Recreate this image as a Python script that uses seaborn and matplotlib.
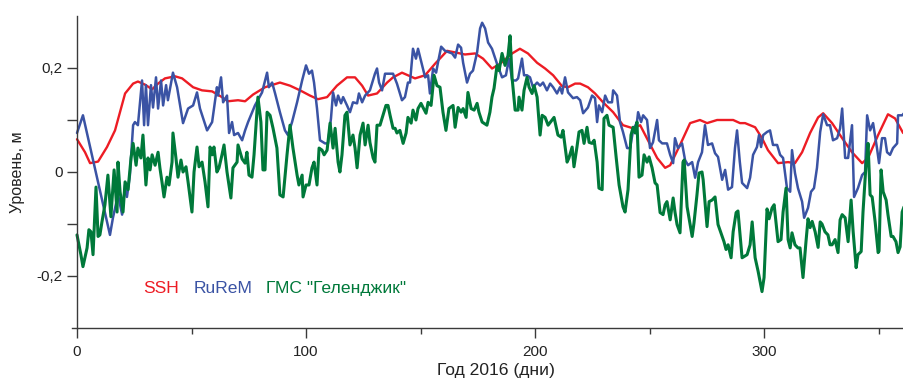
import seaborn as sns
import matplotlib
matplotlib.use("Agg")
import matplotlib.pyplot as plt

# values (day of 2016, level in m)
ssh_day = [0.0, 3.5, 5.7, 9.2, 13.1, 16.6, 21.0, 24.5, 26.6, 29.7, 32.8, 35.4, 38.4, 42.8, 45.9,
           50.7, 54.6, 59.0, 63.3, 65.9, 70.3, 73.4, 76.9, 82.1, 88.6, 93.0, 97.4, 101.7, 105.2,
           109.2, 113.5, 117.9, 121.4, 124.5, 127.1, 131.0, 135.4, 138.0, 141.9, 144.5, 147.6,
           152.0, 156.3, 161.6, 165.1, 169.4, 173.8, 177.3, 181.2, 184.7, 190.0, 193.4, 196.9,
           200.9, 204.4, 207.9, 211.8, 214.4, 217.5, 219.7, 223.1, 226.2, 229.7, 234.1, 238.4,
           242.8, 245.9, 249.3, 253.3, 256.8, 259.0, 263.3, 267.7, 272.0, 275.1, 279.5, 283.8,
           286.5, 289.5, 291.7, 296.1, 299.1, 301.7, 306.1, 310.5, 313.5, 316.6, 320.1, 323.6,
           325.8, 329.7, 334.1, 338.4, 342.8, 345.4, 349.8, 354.1, 357.2, 360.7]
ssh_val = [0.063, 0.038, 0.017, 0.020, 0.048, 0.080, 0.151, 0.170, 0.174, 0.168, 0.159, 0.170,
           0.180, 0.184, 0.180, 0.163, 0.157, 0.155, 0.144, 0.136, 0.138, 0.136, 0.149, 0.163,
           0.172, 0.166, 0.157, 0.147, 0.140, 0.144, 0.166, 0.182, 0.182, 0.166, 0.147, 0.151,
           0.172, 0.182, 0.191, 0.186, 0.180, 0.186, 0.208, 0.233, 0.230, 0.226, 0.228, 0.218,
           0.199, 0.208, 0.228, 0.237, 0.228, 0.210, 0.199, 0.186, 0.165, 0.163, 0.170, 0.170,
           0.163, 0.151, 0.134, 0.115, 0.090, 0.084, 0.090, 0.061, 0.027, 0.008, 0.013, 0.052,
           0.094, 0.100, 0.094, 0.100, 0.100, 0.100, 0.094, 0.094, 0.086, 0.065, 0.042, 0.017,
           0.019, 0.017, 0.038, 0.075, 0.105, 0.113, 0.094, 0.065, 0.038, 0.017, 0.027, 0.071,
           0.111, 0.103, 0.075]

rurem_day = [0.0, 2.6, 14.4, 15.7, 17.9, 19.7, 21.0, 21.8, 23.1, 24.5, 25.3, 26.6, 28.4, 29.3,
             30.1, 31.0, 32.3, 33.2, 34.5, 35.4, 36.7, 37.6, 38.9, 39.7, 41.9, 43.7, 46.3, 48.5,
             50.7, 52.4, 53.7, 56.8, 59.0, 61.1, 61.6, 62.9, 63.8, 65.5, 66.4, 67.7, 68.6, 70.3,
             72.1, 73.4, 74.7, 77.7, 80.8, 83.0, 83.8, 85.2, 86.5, 88.6, 90.8, 92.1, 93.9, 96.1,
             98.3, 100.0, 101.3, 102.6, 103.5, 104.8, 106.1, 108.3, 109.6, 110.9, 111.8, 113.1,
             114.0, 115.3, 116.2, 117.9, 119.2, 120.5, 122.3, 123.1, 124.5, 125.8, 127.9, 130.1,
             131.0, 131.9, 133.2, 134.5, 136.7, 138.0, 139.7, 141.9, 143.2, 144.5, 145.4, 146.7,
             148.0, 148.9, 150.7, 152.0, 153.3, 154.1, 155.5, 156.8, 157.6, 159.0, 160.7, 163.8,
             165.1, 166.4, 167.7, 168.6, 170.3, 171.6, 172.9, 174.7, 176.0, 176.9, 178.2, 179.5,
             181.2, 183.4, 185.6, 187.3, 188.6, 190.0, 191.7, 192.6, 194.3, 195.2, 196.5, 197.8,
             199.1, 200.9, 202.2, 203.5, 205.2, 206.6, 207.9, 209.6, 210.9, 211.8, 213.1, 214.4,
             216.6, 218.3, 219.7, 221.0, 223.1, 224.9, 226.2, 227.1, 227.9, 229.3, 230.6, 231.9,
             233.6, 234.1, 235.8, 237.1, 238.4, 240.2, 241.5, 242.8, 244.5, 245.0, 246.3, 247.2,
             248.9, 250.2, 251.5, 253.3, 254.1, 255.5, 257.6, 259.0, 260.3, 261.1, 262.4, 264.2,
             265.5, 266.8, 268.6, 269.9, 271.2, 272.9, 274.2, 275.5, 277.3, 278.6, 279.9, 281.7,
             283.0, 284.3, 286.0, 287.3, 288.2, 289.4, 290.4, 292.6, 293.9, 295.2, 296.9, 297.8,
             298.7, 299.6, 301.3, 302.6, 303.9, 305.7, 307.0, 308.3, 310.0, 311.4, 312.2, 313.5,
             314.8, 316.6, 317.5, 319.2, 320.5, 321.8, 323.1, 324.5, 325.8, 327.5, 328.8, 330.1,
             331.9, 333.2, 334.1, 335.4, 336.7, 338.4, 339.3, 341.0, 342.8, 344.1, 345.0, 346.3,
             347.6, 349.3, 350.2, 351.5, 352.8, 353.7, 355.0, 356.3, 358.1, 358.5, 360.3, 361.1]
rurem_val = [0.075, 0.109, -0.121, -0.088, -0.044, -0.082, -0.025, -0.048, -0.006, 0.090, 0.096,
             0.090, 0.176, 0.090, 0.167, 0.090, 0.167, 0.124, 0.182, 0.122, 0.176, 0.128, 0.167,
             0.138, 0.191, 0.163, 0.094, 0.122, 0.128, 0.153, 0.122, 0.080, 0.096, 0.163, 0.147,
             0.182, 0.134, 0.147, 0.075, 0.096, 0.071, 0.075, 0.061, 0.080, 0.096, 0.128, 0.153,
             0.191, 0.163, 0.172, 0.151, 0.115, 0.080, 0.071, 0.096, 0.134, 0.176, 0.205, 0.189,
             0.195, 0.172, 0.122, 0.061, 0.055, 0.055, 0.103, 0.153, 0.128, 0.147, 0.132, 0.144,
             0.128, 0.115, 0.134, 0.132, 0.151, 0.134, 0.147, 0.157, 0.189, 0.199, 0.172, 0.157,
             0.189, 0.189, 0.189, 0.170, 0.138, 0.144, 0.172, 0.172, 0.237, 0.218, 0.237, 0.205,
             0.182, 0.186, 0.151, 0.199, 0.191, 0.210, 0.241, 0.233, 0.228, 0.220, 0.245, 0.239,
             0.210, 0.172, 0.189, 0.195, 0.230, 0.276, 0.287, 0.276, 0.249, 0.237, 0.208, 0.182,
             0.186, 0.218, 0.176, 0.176, 0.180, 0.218, 0.186, 0.186, 0.182, 0.163, 0.172, 0.166,
             0.172, 0.157, 0.170, 0.163, 0.151, 0.163, 0.151, 0.182, 0.153, 0.142, 0.144, 0.138,
             0.113, 0.124, 0.147, 0.142, 0.096, 0.128, 0.115, 0.147, 0.134, 0.134, 0.157, 0.147,
             0.096, 0.077, 0.046, 0.046, 0.080, 0.096, 0.115, 0.096, 0.109, 0.100, 0.046, 0.057,
             0.100, 0.061, 0.055, 0.055, 0.033, 0.017, 0.065, 0.046, 0.055, 0.023, 0.013, 0.019,
             -0.011, 0.019, 0.038, 0.090, 0.052, 0.055, 0.036, 0.029, -0.015, 0.004, -0.034,
             -0.029, 0.046, 0.080, 0.020, -0.021, -0.031, -0.011, 0.033, 0.048, 0.071, 0.048,
             0.071, 0.077, 0.080, 0.052, 0.052, 0.033, 0.027, -0.031, -0.038, 0.042, -0.002,
             -0.031, -0.057, -0.088, -0.069, -0.038, -0.031, 0.008, 0.077, 0.111, 0.090, 0.090,
             0.061, 0.065, 0.084, 0.122, 0.027, 0.027, 0.090, -0.048, -0.031, -0.006, 0.000,
             0.109, 0.080, 0.094, 0.046, 0.017, 0.065, 0.065, 0.038, 0.033, 0.046, 0.055, 0.109,
             0.109, 0.113]

gms_day = [0.0, 1.7, 2.6, 4.4, 5.2, 6.1, 7.0, 8.3, 9.2, 10.0, 10.9, 12.2, 13.5, 14.8, 16.2, 17.5,
           17.9, 18.8, 20.1, 21.0, 22.3, 23.6, 24.5, 25.8, 26.6, 27.9, 28.8, 30.1, 31.0, 31.9,
           32.8, 34.1, 35.4, 36.2, 37.1, 38.0, 39.3, 40.2, 41.5, 41.9, 43.2, 44.1, 45.4, 46.3,
           47.6, 48.5, 50.2, 51.1, 52.4, 53.3, 54.6, 55.9, 57.2, 58.1, 59.0, 59.8, 61.1, 62.0,
           63.3, 64.2, 65.5, 67.2, 68.1, 69.9, 70.3, 72.1, 73.4, 74.2, 75.1, 76.4, 77.3, 79.0,
           80.3, 81.2, 82.1, 83.0, 84.3, 85.6, 87.3, 88.6, 90.0, 91.7, 93.0, 94.3, 96.1, 96.9,
           98.3, 98.7, 100.0, 101.3, 102.6, 103.5, 104.8, 105.7, 107.0, 107.9, 109.2, 110.5,
           111.8, 112.7, 114.0, 114.8, 115.7, 117.0, 117.9, 119.2, 120.5, 121.4, 122.3, 123.6,
           124.9, 125.8, 127.1, 127.9, 129.3, 130.1, 131.0, 132.3, 133.6, 134.9, 135.8, 136.7,
           138.0, 138.9, 139.7, 141.0, 142.4, 143.7, 144.5, 145.9, 146.7, 148.0, 148.9, 150.2,
           151.1, 152.4, 153.3, 154.6, 155.9, 157.2, 158.5, 159.8, 161.1, 162.4, 164.2, 165.1,
           166.4, 167.7, 168.6, 169.9, 170.7, 172.1, 173.4, 174.7, 175.5, 176.9, 179.0, 180.3,
           181.2, 182.1, 183.4, 184.3, 185.6, 186.9, 188.2, 189.1, 190.0, 191.3, 192.6, 193.0,
           194.3, 195.2, 196.5, 197.4, 198.7, 199.6, 200.9, 202.2, 203.1, 204.4, 205.7, 207.4,
           208.3, 210.0, 211.4, 212.2, 214.0, 214.8, 216.2, 217.0, 218.3, 219.2, 220.5, 221.4,
           222.7, 223.6, 224.9, 225.8, 227.1, 227.9, 229.3, 230.1, 231.4, 232.3, 234.1, 235.4,
           236.7, 238.4, 239.3, 240.6, 241.9, 242.8, 243.7, 244.5, 245.4, 246.7, 247.6, 248.9,
           249.8, 251.1, 252.4, 253.3, 254.6, 255.9, 256.8, 257.6, 259.0, 260.3, 261.1, 262.0,
           263.3, 264.6, 265.1, 266.4, 267.2, 268.6, 269.4, 270.7, 271.6, 272.9, 273.4, 275.1,
           276.0, 277.3, 278.6, 279.9, 281.7, 282.5, 283.4, 284.3, 285.6, 286.5, 287.8, 288.6,
           289.5, 290.4, 292.6, 293.9, 294.8, 296.1, 297.4, 299.1, 300.0, 301.3, 302.2, 303.5,
           304.4, 306.1, 307.4, 308.3, 309.6, 310.5, 311.4, 312.2, 313.5, 314.8, 315.7, 317.0,
           318.3, 319.2, 320.1, 321.0, 322.3, 323.6, 324.5, 325.3, 326.6, 327.9, 328.8, 329.7,
           331.0, 332.3, 333.2, 334.1, 335.4, 336.7, 338.0, 338.9, 340.2, 341.0, 342.4, 343.2,
           344.5, 345.4, 346.3, 347.2, 348.5, 349.8, 350.2, 351.1, 352.0, 353.3, 354.1, 355.5,
           356.3, 357.6, 358.5, 359.4, 360.3, 361.1]
gms_val = [-0.121, -0.159, -0.182, -0.146, -0.111, -0.115, -0.159, -0.029, -0.124, -0.121, -0.096,
           -0.063, -0.006, -0.086, 0.004, -0.077, 0.019, -0.038, -0.077, -0.019, -0.034, 0.027,
           0.055, 0.013, 0.046, 0.027, 0.071, -0.025, 0.027, 0.004, 0.033, 0.013, 0.038, 0.008,
           -0.019, -0.048, -0.010, -0.025, 0.019, 0.075, 0.027, -0.010, 0.023, 0.000, 0.010,
           -0.019, -0.077, 0.000, 0.048, 0.010, 0.019, -0.019, -0.067, 0.048, 0.033, 0.048,
           0.000, 0.008, 0.033, 0.052, 0.000, -0.050, 0.008, 0.019, 0.052, 0.025, 0.017, 0.038,
           -0.006, -0.010, 0.033, 0.144, 0.096, 0.004, 0.004, 0.115, 0.109, 0.084, 0.046, -0.044,
           -0.048, 0.033, 0.090, 0.046, -0.006, -0.025, -0.006, -0.048, -0.025, -0.025, 0.008,
           0.019, -0.025, 0.046, 0.042, 0.033, 0.042, 0.094, 0.046, 0.084, 0.019, 0.000, 0.033,
           0.109, 0.115, 0.052, 0.071, 0.046, 0.008, 0.071, 0.094, 0.052, 0.090, 0.057, 0.027,
           0.019, 0.090, 0.090, 0.109, 0.128, 0.128, 0.109, 0.084, 0.084, 0.075, 0.080, 0.055,
           0.075, 0.105, 0.094, 0.119, 0.100, 0.122, 0.132, 0.124, 0.113, 0.134, 0.128, 0.186,
           0.166, 0.163, 0.115, 0.080, 0.122, 0.128, 0.086, 0.124, 0.115, 0.122, 0.105, 0.153,
           0.122, 0.119, 0.132, 0.115, 0.096, 0.090, 0.115, 0.144, 0.161, 0.205, 0.195, 0.228,
           0.205, 0.224, 0.262, 0.180, 0.119, 0.119, 0.144, 0.119, 0.157, 0.182, 0.163, 0.151,
           0.166, 0.144, 0.071, 0.109, 0.105, 0.090, 0.100, 0.105, 0.071, 0.067, 0.080, 0.019,
           0.027, 0.048, 0.010, 0.048, 0.077, 0.080, 0.055, 0.086, 0.057, 0.055, 0.061, 0.019,
           -0.031, -0.034, 0.103, 0.109, 0.090, 0.086, 0.029, -0.025, -0.067, -0.077, -0.034,
           0.071, 0.086, 0.075, 0.096, -0.010, -0.006, 0.033, 0.019, 0.029, 0.008, -0.021,
           -0.025, -0.078, -0.082, -0.063, -0.057, -0.092, -0.050, -0.077, -0.101, -0.117, 0.019,
           0.023, -0.067, -0.088, -0.124, -0.098, -0.044, -0.002, 0.000, -0.015, -0.105, -0.057,
           -0.054, -0.048, -0.101, -0.124, -0.134, -0.149, -0.140, -0.165, -0.115, -0.078,
           -0.075, -0.121, -0.165, -0.159, -0.140, -0.096, -0.165, -0.191, -0.230, -0.203,
           -0.071, -0.090, -0.069, -0.063, -0.134, -0.130, -0.077, -0.031, -0.130, -0.146,
           -0.117, -0.140, -0.146, -0.146, -0.203, -0.134, -0.090, -0.107, -0.095, -0.115,
           -0.145, -0.096, -0.100, -0.115, -0.121, -0.140, -0.140, -0.130, -0.155, -0.092,
           -0.082, -0.088, -0.134, -0.054, -0.115, -0.184, -0.159, -0.153, -0.077, 0.013, 0.055,
           -0.044, -0.048, -0.096, -0.155, -0.152, 0.004, -0.038, -0.054, -0.082, -0.124, -0.124,
           -0.134, -0.155, -0.144, -0.077, -0.067]

series_names = ["SSH", "RuReM", "ГМС \"Геленджик\""]
series_colors = ["#ED1C24", "#3A53A4", "#00793A"]

x_major = [0, 100, 200, 300]
x_minor = [50, 150, 250, 350]
y_major = [-0.2, 0.0, 0.2]
y_major_labels = ["-0,2", "0", "0,2"]
y_minor = [-0.1, 0.1]

sns.set_theme(style="ticks")
plt.rcParams['font.family'] = ['Liberation Sans', 'DejaVu Sans']

fig = plt.figure(figsize=(9.04, 3.79), dpi=100)
ax = fig.add_axes([0.0796, 0.1346, 0.9204, 0.8232])

series = [(ssh_day, ssh_val), (rurem_day, rurem_val), (gms_day, gms_val)]
widths = [1.7, 1.8, 2.2]
for (d, v), c, w in zip(series, series_colors, widths):
    sns.lineplot(x=d, y=v, color=c, linewidth=w, estimator=None, sort=False, ax=ax)

ax.set_xlim(-2.2, 361.1)
ax.set_ylim(-0.3, 0.3)

axis_col = "#3a3a3a"
ax.spines['top'].set_visible(False)
ax.spines['right'].set_visible(False)
ax.spines['left'].set_position(('data', 0))
for s in ['left', 'bottom']:
    ax.spines[s].set_color(axis_col)
    ax.spines[s].set_linewidth(1.0)

ax.set_xticks(x_major)
ax.set_xticks(x_minor, minor=True)
ax.set_xticklabels([str(t) for t in x_major])
ax.set_yticks(y_major)
ax.set_yticks(y_minor, minor=True)
ax.set_yticklabels(y_major_labels)

ax.tick_params(axis='x', which='major', length=7, width=1.0, color=axis_col, pad=5,
               labelsize=11, labelcolor="#222222")
ax.tick_params(axis='x', which='minor', length=4.5, width=1.0, color=axis_col)
ax.tick_params(axis='y', which='both', length=7.5, width=1.0, color=axis_col, pad=3,
               labelsize=11, labelcolor="#222222")

ax.set_xlabel("Год 2016 (дни)", fontsize=12.6, color="#222222")
ax.set_ylabel("Уровень, м", fontsize=11.5, color="#222222")
ax.xaxis.set_label_coords(0.51, -0.112)
ax.yaxis.set_label_coords(-0.0565, 0.5)

# coloured series names in place of a legend
label_x = [0.0853, 0.1466, 0.233]
for name, c, lx in zip(series_names, series_colors, label_x):
    ax.text(lx, 0.128, name, color=c, fontsize=12.6, transform=ax.transAxes,
            ha='left', va='center')

fig.savefig("out.png", dpi=100)
